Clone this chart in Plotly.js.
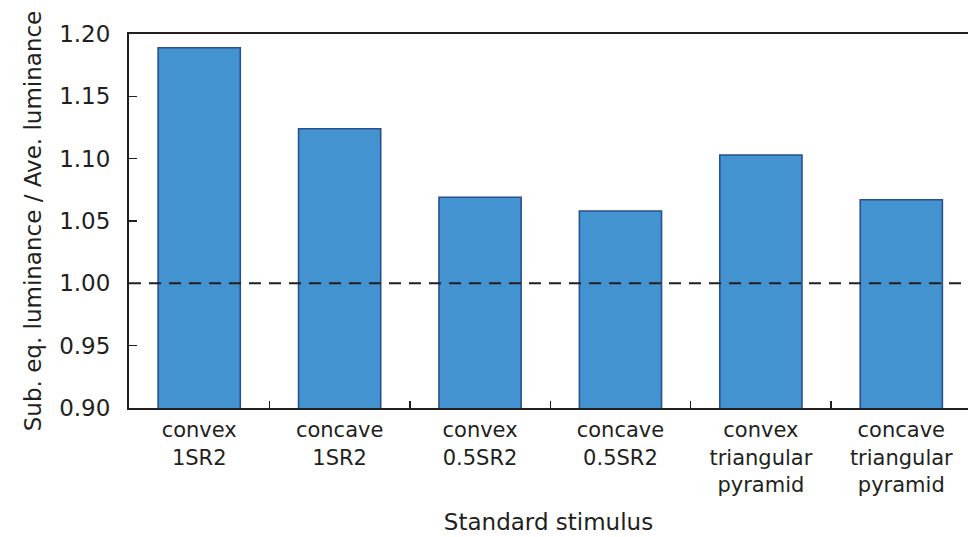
<!DOCTYPE html>
<html><head><meta charset="utf-8">
<script src="https://cdn.plot.ly/plotly-3.0.1.min.js"></script>
<style>html,body{margin:0;padding:0;background:#fff;}</style>
</head><body>
<div id="chart" style="width:968px;height:537px;"></div>
<script>
const categories = ["convex<br>1SR2", "concave<br>1SR2", "convex<br>0.5SR2", "concave<br>0.5SR2", "convex<br>triangular<br>pyramid", "concave<br>triangular<br>pyramid"];
const ratios = [1.189, 1.124, 1.069, 1.058, 1.103, 1.067];
const referenceLevel = 1.00;
const yTicks = [0.90, 0.95, 1.00, 1.05, 1.10, 1.15, 1.20];
const yTickText = ["0.90", "0.95", "1.00", "1.05", "1.10", "1.15", "1.20"];

const font = "DejaVu Sans, Liberation Sans, Arial, sans-serif";
const ink = "#231f20";
const data = [{
  type: "bar",
  x: categories,
  y: ratios,
  marker: {color: "#4393d1", line: {color: "#2a4f90", width: 1.6}},
  hoverinfo: "skip"
}];
const layout = {
  width: 968, height: 537,
  margin: {l: 129, r: 0, t: 34, b: 129},
  paper_bgcolor: "#fff", plot_bgcolor: "#fff",
  showlegend: false,
  bargap: 0.415,
  font: {family: font, color: ink, size: 24},
  xaxis: {
    type: "category",
    range: [-0.5, 5.475],
    showline: true, linecolor: ink, linewidth: 2, mirror: true,
    ticks: "inside", tickson: "boundaries", ticklen: 7, tickwidth: 1.5, tickcolor: ink,
    tickfont: {size: 21, family: font, color: ink},
    ticklabelstandoff: 2,
    showgrid: false, zeroline: false,
    title: {text: "Standard stimulus", font: {size: 23, family: font, color: ink}, standoff: 18}
  },
  yaxis: {
    range: [0.90, 1.20],
    tickvals: yTicks, ticktext: yTickText,
    showline: true, linecolor: ink, linewidth: 2,
    ticks: "inside", ticklen: 8, tickwidth: 1.5, tickcolor: ink,
    tickfont: {size: 23, family: font, color: ink},
    ticklabelstandoff: 12,
    showgrid: false, zeroline: false,
    title: {text: "Sub. eq. luminance / Ave. luminance", font: {size: 23, family: font, color: ink}, standoff: 11}
  },
  shapes: [{
    type: "line", xref: "paper", x0: 0, x1: 1, yref: "y", y0: referenceLevel, y1: referenceLevel,
    line: {color: ink, width: 2, dash: "12px,8px"}
  }]
};
Plotly.newPlot("chart", data, layout, {displayModeBar: false, staticPlot: true});
</script>
</body></html>
